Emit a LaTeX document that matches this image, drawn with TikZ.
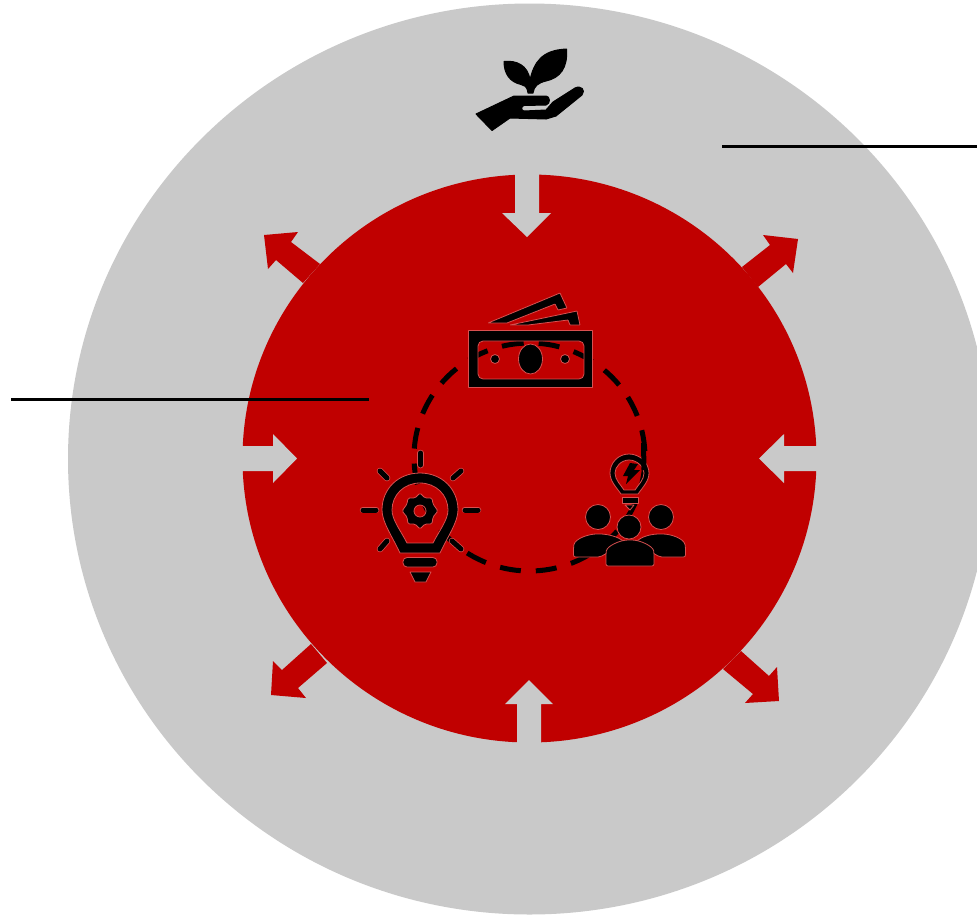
\documentclass[tikz,border=0pt]{standalone}
\usetikzlibrary{shapes.geometric}
\definecolor{greyc}{HTML}{C9C9C9}
\definecolor{redc}{HTML}{C00000}
\definecolor{halo}{HTML}{D85050}
\tikzset{
  ink/.style={fill=black,draw=black,line width=1pt,line join=round},
  outl/.style={fill=black,draw=halo,line width=0.8pt,line join=round},
  rline/.style={draw=black,line width=5pt,line cap=round},
  rstroke/.style={draw=halo,line width=6.5pt,line cap=round},
  leader/.style={draw=black,line width=3pt},
}
\begin{document}
\begin{tikzpicture}[x=1pt,y=-1pt]
\useasboundingbox (0,0) rectangle (977,914);
\clip (0,0) rectangle (977,914);
\fill[white] (0,0) rectangle (977,914);
% circles
\node[ellipse,fill=greyc,draw=none,minimum width=923pt,minimum height=911pt,inner sep=0pt] (outer) at (529.5,459) {};
\node[ellipse,fill=redc,draw=none,minimum width=574pt,minimum height=568pt,inner sep=0pt] (inner) at (529.5,458.5) {};
% grey inward arrows
\fill[greyc] (515,173)--(539,173)--(539,213)--(551,213)--(527,237)--(502,213)--(515,213)--cycle;
\fill[greyc] (517,744)--(541,744)--(541,704)--(553,704)--(529,680)--(505,704)--(517,704)--cycle;
\fill[greyc] (241,446)--(273,446)--(273,434)--(297,458.5)--(273,483)--(273,471)--(241,471)--cycle;
\fill[greyc] (818,446)--(784,446)--(784,434)--(759,458.5)--(784,483)--(784,471)--(818,471)--cycle;
% red outward arrows
\fill[redc] (320,264)--(303,283)--(276,260)--(268,269)--(264,235)--(298,232)--(291,242)--cycle;
\fill[redc] (742,267)--(758,287)--(786,264)--(793,273)--(798,239)--(763,235)--(770,245)--cycle;
\fill[redc] (311,644)--(327,663)--(298,688)--(306,698)--(271,695)--(273,661)--(282,670)--cycle;
\fill[redc] (741,651)--(723,669)--(753,694)--(745,703)--(779,701)--(777,667)--(769,676)--cycle;
% leader lines
\coordinate (l1a) at (722,146); \coordinate (l1b) at (977,146);
\coordinate (l2a) at (11,399); \coordinate (l2b) at (369,399);
\draw[leader] (l1a)--(l1b);
\draw[leader] (l2a)--(l2b);
% dashed cycle
\draw[black,line width=5pt,dash pattern=on 21pt off 15pt] (529.5,457) ++(256.7:115.5 and 114) arc[start angle=256.7,end angle=616.7,x radius=115.5,y radius=114];
% money
\draw[outl,even odd rule] (468.5,330.5) rectangle (592.5,387.5)
  [rounded corners=5pt] (478,341) rectangle (584,379);
\draw[outl] (530.5,359) ellipse (12 and 15);
\draw[outl] (495,359) circle (4.5);
\draw[outl] (565,359) circle (4.5);
\draw[outl,rounded corners=.5pt] (488,323)--(560,293)--(567,308)--(558,310)--(555,304)--(507,323)--cycle;
\draw[outl,rounded corners=.5pt] (510,325)--(577,311)--(580,325)--(570,325)--(568,320)--(528,325)--cycle;
% plant hand
\fill[ink] (528,93) .. controls (527,86) and (524,85) .. (521,84.5) .. controls (510,82) and (504,74) .. (504,61.5) .. controls (516,60) and (528,65) .. (530,80) .. controls (534,62) and (542,50) .. (566.5,49) .. controls (568,68) and (560,78) .. (546,81) .. controls (538,83) and (534,86) .. (533,93) -- cycle;
\fill[ink] (476,114)--(514,96)--(546,96) .. controls (550,96) and (551,104) .. (546,105) -- (524,105.5) .. controls (521,106) and (521,111) .. (524,111) -- (546,110) -- (553,102) -- (575,88) .. controls (581,85) and (586,90) .. (582,95) -- (556,116) -- (546,119) -- (510,118) -- (492,130.5) -- cycle;
% bulb with gear
\draw[outl,even odd rule] (420,473) .. controls (398,473) and (382,489) .. (382,510) .. controls (382,522) and (392,536) .. (400,553) -- (440,553) .. controls (448,536) and (458,522) .. (458,510) .. controls (458,489) and (442,473) .. (420,473) -- cycle
 (420,483) .. controls (404,483) and (392,495) .. (392,510) .. controls (392,520) and (401,531) .. (407,543) -- (433,543) .. controls (439,531) and (448,520) .. (448,510) .. controls (448,495) and (436,483) .. (420,483) -- cycle;
\draw[outl,rounded corners=4pt] (403,557.5) rectangle (437,567);
\draw[outl] (410,572)--(431,572)--(426,582)--(415,582)--cycle;
\draw[outl,even odd rule,rounded corners=1.5pt]
  (420,493)--(425,498)--(432,498)--(433,504)--(438,511)--(433,517)--(432,524)--(425,524)--(420,529)--(415,524)--(408,524)--(407,517)--(402,511)--(407,504)--(408,498)--(415,498)--cycle
  [sharp corners] (426,511) arc[start angle=0,end angle=360,radius=6];
\foreach \x/\y/\xx/\yy in {420.5/453/420.5/465, 380/471/387/478, 461/471/453/478, 363/510/376/510, 465/510/478/510, 380/549/387/541, 452/541/461/549}{
  \draw[rstroke] (\x,\y)--(\xx,\yy);
  \draw[rline] (\x,\y)--(\xx,\yy);
}
% bulb with people
\draw[outl,even odd rule] (629,454) .. controls (618,454) and (610,463) .. (610,473) .. controls (610,481) and (616,487) .. (621,494) -- (638,494) .. controls (643,487) and (649,481) .. (649,473) .. controls (649,463) and (640,454) .. (629,454) -- cycle
 (629,460) .. controls (621,460) and (615,467) .. (615,473) .. controls (615,480) and (621,485) .. (624,490) -- (635,490) .. controls (638,485) and (644,480) .. (644,473) .. controls (644,467) and (637,460) .. (629,460) -- cycle;
\fill[black] (630,463)--(623,476)--(628,476)--(626,484)--(640,470)--(634,470)--(638,464)--cycle;
\draw[outl] (622,497) rectangle (638,503);
\draw[outl] (625,505)--(634,505)--(630,510)--cycle;
\draw[outl] (598,517) circle (12.5);
\draw[outl] (661,517) circle (12.5);
\draw[outl,rounded corners=2pt] (573.5,557) -- (573.5,547) .. controls (575,538) and (590,534) .. (598,534) .. controls (606,534) and (618,536) .. (625,543) -- (600,557) -- cycle;
\draw[outl,rounded corners=2pt] (685.5,557) -- (685.5,547) .. controls (684,538) and (670,534) .. (661,534) .. controls (652,534) and (642,536) .. (635,543) -- (660,557) -- cycle;
\draw[outl,rounded corners=2pt] (606,566) -- (606,553) .. controls (607,546) and (620,540) .. (630,540) .. controls (640,540) and (653,546) .. (654,553) -- (654,566) -- cycle;
\draw[outl] (629,527) circle (12);
% dash segment that lies over the small bulb
\draw[black,line width=5pt] (643.5,443)--(644,470);
\end{tikzpicture}
\end{document}
